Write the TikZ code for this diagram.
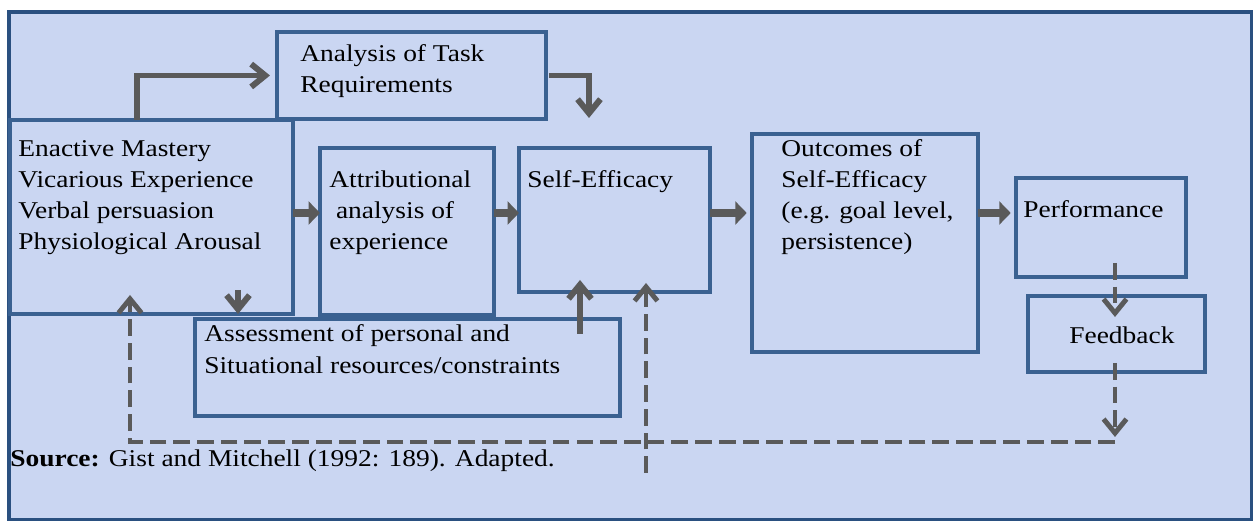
\documentclass[tikz,border=0pt]{standalone}
\usepackage{fontspec}
\setmainfont[FakeStretch=1.14]{Liberation Serif}
\usetikzlibrary{arrows.meta,calc}

\definecolor{panel}{RGB}{202,214,242}
\definecolor{boxblue}{RGB}{58,97,145}
\definecolor{frameblue}{RGB}{42,80,128}
\definecolor{arrgray}{RGB}{90,90,90}

\begin{document}
\begin{tikzpicture}[
  x=0.02cm, y=-0.02cm,
  font=\fontsize{13.7pt}{17.8pt}\selectfont,
  box/.style={draw=boxblue, line width=2.3pt, anchor=north west, inner sep=0pt, outer sep=0pt},
  txt/.style={anchor=base west, align=left, inner sep=0pt},
  link/.style={-{Straight Barb[length=8pt,width=13pt]}, line width=3.4pt, draw=arrgray},
  block/.style={-{Triangle[length=6.5pt,width=13pt]}, line width=5pt, draw=arrgray},
  fback/.style={link, line width=2.8pt, dash pattern=on 9.5pt off 4pt},
]
\useasboundingbox (0,0) rectangle (1253,523);

% ---- panel behind everything ----
\node[draw=frameblue, line width=2pt, fill=panel, anchor=north west, inner sep=0pt,
      minimum width=24.86cm, minimum height=10.16cm] (frame) at (7,10) {};

% ---- boxes ----
\node[box, minimum width=5.66cm, minimum height=3.88cm] (enact)  at (10,120) {};
\node[box, minimum width=5.38cm, minimum height=1.74cm] (task)   at (277,32) {};
\node[box, minimum width=3.48cm, minimum height=3.34cm] (attr)   at (320,148) {};
\node[box, minimum width=3.82cm, minimum height=2.88cm] (self)   at (519,148) {};
\node[box, minimum width=8.50cm, minimum height=1.94cm] (assess) at (195,319) {};
\node[box, minimum width=4.52cm, minimum height=4.36cm] (outc)   at (752,134) {};
\node[box, minimum width=3.40cm, minimum height=1.98cm] (perf)   at (1016,178) {};
\node[box, minimum width=3.54cm, minimum height=1.52cm] (fdbk)   at (1028,296) {};

% ---- box texts (base = last line) ----
\node[txt] (enact-t) at ($(enact.north west)+(8,130)$)
  {Enactive Mastery\\Vicarious Experience\\Verbal persuasion\\Physiological Arousal};
\node[txt] (task-t) at ($(task.north west)+(23,61)$) {Analysis of Task\\Requirements};
\node[txt] (attr-t) at ($(attr.north west)+(9,102)$)
  {Attributional\\\hspace*{3.8pt}analysis of\\experience};
\node[txt] (self-t) at ($(self.north west)+(8,40)$) {Self-Efficacy};
\node[txt] (assess-t) at ($(assess.north west)+(9,54)$)
  {Assessment of personal and\\Situational resources/constraints};
\node[txt] (outc-t) at ($(outc.north west)+(29,116)$)
  {Outcomes of\\Self-Efficacy\\(e.g. goal level,\\persistence)};
\node[txt] (perf-t) at ($(perf.north west)+(7,40)$) {Performance};
\node[txt] (fdbk-t) at ($(fdbk.north west)+(41,47)$) {Feedback};

\node[txt] (src) at (10,466) {\textbf{Source:} Gist and Mitchell (1992: 189). Adapted.};

% ---- main row ----
\coordinate (mid) at (0,213);
\draw[block] (enact.east |- mid) -- (attr.west |- mid);
\draw[block] (attr.east |- mid) -- (self.west |- mid);
\draw[block, shorten >=3pt] (self.east |- mid) -- (outc.west |- mid);
\draw[block, shorten >=3pt] (outc.east |- mid) -- (perf.west |- mid);

% ---- task analysis branch ----
\draw[link] ($(enact.north west)+(127,0)$) |- ([xshift=-4pt]task.west);
\draw[link] ([xshift=2pt]task.east) -| ($(self.north west)+(70,-30)$);

% ---- assessment branch ----
\draw[link] ($(enact.south west)+(228,-24)$) -- ($(enact.south west)+(228,0)$);
\draw[link] ($(self.south west)+(61,42)$) -- ($(self.south west)+(61,-12)$);

% ---- feedback loop ----
\coordinate (loopR) at ($(fdbk.south west)+(87,70)$);
\draw[fback] ($(perf.south west)+(99,-14)$) -- ($(fdbk.north west)+(87,21)$);
\draw[fback] ($(fdbk.south west)+(87,-9)$) -- ($(fdbk.south west)+(87,65)$);
\draw[fback] (loopR) -| ($(enact.south west)+(120,-19)$);
\draw[fback] ($(self.south west)+(127,181)$) -- ($(self.south west)+(127,-9)$);
\end{tikzpicture}
\end{document}
